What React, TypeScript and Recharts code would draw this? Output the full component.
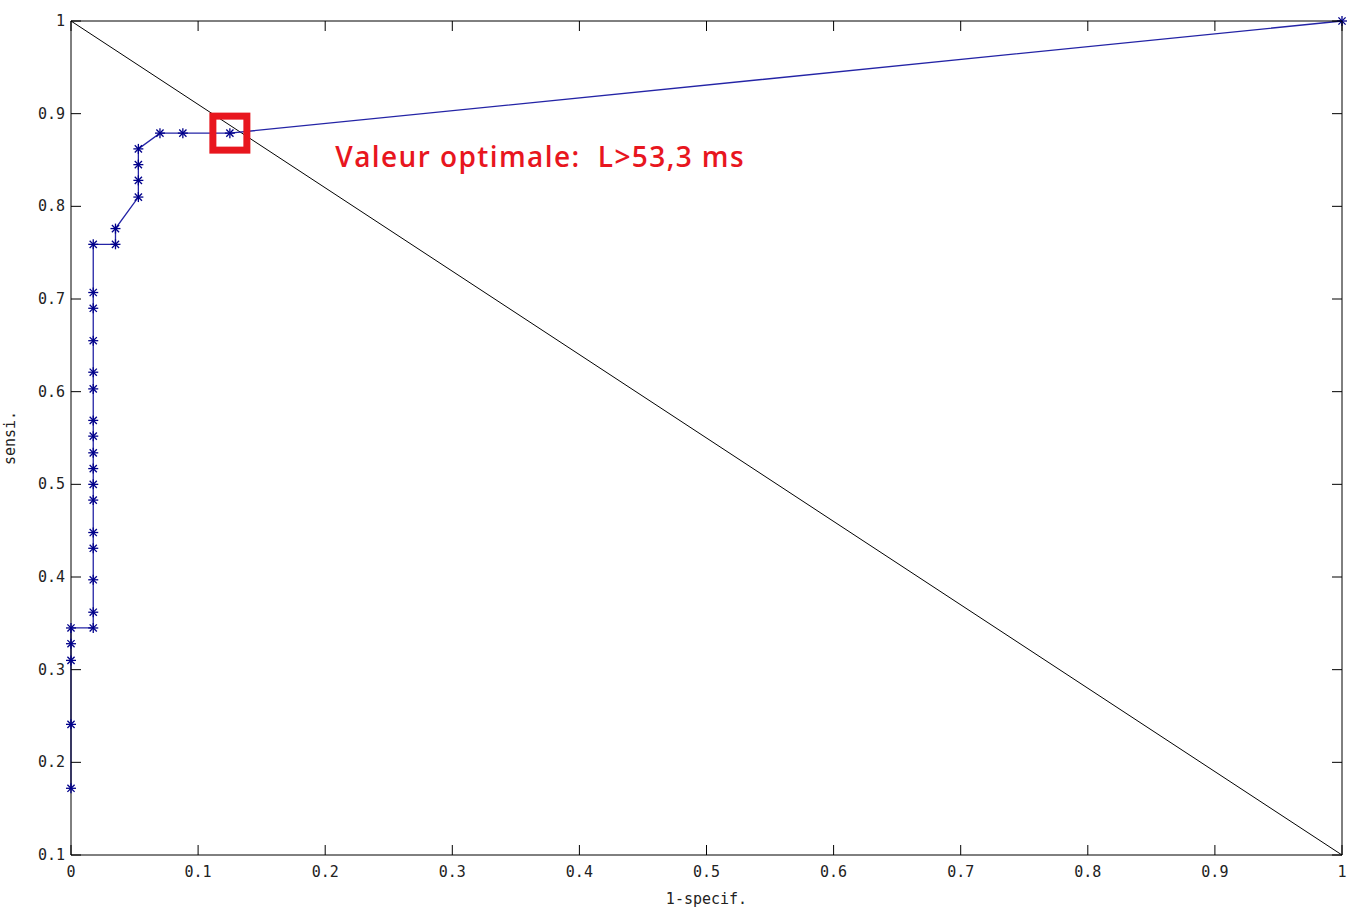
import React from 'react';
import { LineChart, Line, XAxis, YAxis, ReferenceDot } from 'recharts';

// ROC points (1 - specificity, sensitivity)
const fpr = [
  0, 0, 0, 0, 0,
  0.0175, 0.0175, 0.0175, 0.0175, 0.0175, 0.0175, 0.0175, 0.0175, 0.0175,
  0.0175, 0.0175, 0.0175, 0.0175, 0.0175, 0.0175, 0.0175, 0.0175,
  0.035, 0.035,
  0.053, 0.053, 0.053, 0.053,
  0.07, 0.088, 0.125, 1,
];
const sens = [
  0.172, 0.241, 0.31, 0.328, 0.345,
  0.345, 0.362, 0.397, 0.431, 0.448, 0.483, 0.5, 0.517, 0.534,
  0.552, 0.569, 0.603, 0.621, 0.655, 0.69, 0.707, 0.759,
  0.759, 0.776,
  0.81, 0.828, 0.845, 0.862,
  0.879, 0.879, 0.879, 1,
];

const diagX = [0, 1];
const diagY = [1, 0.1];

const xTicks = [0, 0.1, 0.2, 0.3, 0.4, 0.5, 0.6, 0.7, 0.8, 0.9, 1];
const yTicks = [0.1, 0.2, 0.3, 0.4, 0.5, 0.6, 0.7, 0.8, 0.9, 1];

const optimal = { x: 0.125, y: 0.879 };
const note = { x: 0.208, y: 0.853, text: 'Valeur optimale:  L>53,3 ms' };

const rocData = fpr.map((x, i) => ({ x, y: sens[i] }));
const diagData = diagX.map((x, i) => ({ x, y: diagY[i] }));

const fmt = (v: number) => (v === 0 || v === 1 ? String(v) : v.toFixed(1));
const tickFont = { fontFamily: 'DejaVu Sans Mono', fontSize: 15, fill: '#222' };

const BottomTick = (p: any) => (
  <g>
    <line x1={p.x} x2={p.x} y1={p.y} y2={p.y - 10} stroke="#000" />
    <text x={p.x} y={p.y + 22} textAnchor="middle" {...tickFont}>{fmt(p.payload.value)}</text>
  </g>
);
const TopTick = (p: any) => <line x1={p.x} x2={p.x} y1={p.y} y2={p.y + 10} stroke="#000" />;
const LeftTick = (p: any) => (
  <g>
    <line x1={p.x} x2={p.x + 10} y1={p.y} y2={p.y} stroke="#000" />
    <text x={p.x - 6} y={p.y + 5} textAnchor="end" {...tickFont}>{fmt(p.payload.value)}</text>
  </g>
);
const RightTick = (p: any) => <line x1={p.x} x2={p.x - 10} y1={p.y} y2={p.y} stroke="#000" />;

const Star = (p: any) => {
  const { cx, cy } = p;
  if (cx == null || cy == null) return null;
  const r = 5;
  const d = 3.6;
  return (
    <g stroke="#00008b" strokeWidth={1.3}>
      <line x1={cx - r} x2={cx + r} y1={cy} y2={cy} />
      <line x1={cx} x2={cx} y1={cy - r} y2={cy + r} />
      <line x1={cx - d} x2={cx + d} y1={cy - d} y2={cy + d} />
      <line x1={cx - d} x2={cx + d} y1={cy + d} y2={cy - d} />
    </g>
  );
};

const OptimalBox = (p: any) => (
  <rect x={p.cx - 17} y={p.cy - 17} width={34} height={34} fill="none" stroke="#e8161e" strokeWidth={7} />
);

const NoteText = (p: any) => (
  <text
    x={p.cx}
    y={p.cy + 10}
    fill="#e8161e"
    fontFamily="Open Sans"
    fontWeight={600}
    fontSize={28}
    letterSpacing={1.4}
    style={{ whiteSpace: 'pre' }}
  >
    {note.text}
  </text>
);

export default function App() {
  return (
    <div style={{ position: 'absolute', left: 0, top: 0, width: 1357, height: 913, background: '#fff' }}>
      <LineChart width={1357} height={913} margin={{ top: 20, right: 14, left: 0, bottom: 0 }}>
        <XAxis
          xAxisId="b"
          type="number"
          dataKey="x"
          domain={[0, 1]}
          ticks={xTicks}
          orientation="bottom"
          height={58}
          tickSize={0}
          tickMargin={0}
          tick={BottomTick}
          stroke="#000"
          label={{ value: '1-specif.', position: 'insideBottom', offset: 9, style: { ...tickFont } }}
        />
        <XAxis
          xAxisId="t"
          type="number"
          dataKey="x"
          domain={[0, 1]}
          ticks={xTicks}
          orientation="top"
          height={1}
          tickSize={0}
          tickMargin={0}
          tick={TopTick}
          stroke="#000"
        />
        <YAxis
          yAxisId="l"
          type="number"
          dataKey="y"
          domain={[0.1, 1]}
          ticks={yTicks}
          orientation="left"
          width={71}
          tickSize={0}
          tickMargin={0}
          tick={LeftTick}
          stroke="#000"
          label={{ value: 'sensi.', angle: -90, position: 'insideLeft', offset: 10, style: { ...tickFont, textAnchor: 'middle' } }}
        />
        <YAxis
          yAxisId="r"
          type="number"
          dataKey="y"
          domain={[0.1, 1]}
          ticks={yTicks}
          orientation="right"
          width={1}
          tickSize={0}
          tickMargin={0}
          tick={RightTick}
          stroke="#000"
        />
        <Line
          xAxisId="t"
          yAxisId="r"
          data={diagData}
          dataKey="y"
          stroke="#000"
          strokeWidth={1}
          dot={false}
          isAnimationActive={false}
        />
        <Line
          xAxisId="b"
          yAxisId="l"
          data={rocData}
          dataKey="y"
          stroke="#2424a6"
          strokeWidth={1.3}
          dot={Star}
          activeDot={false}
          isAnimationActive={false}
        />
        <ReferenceDot xAxisId="b" yAxisId="l" x={optimal.x} y={optimal.y} shape={OptimalBox} />
        <ReferenceDot xAxisId="b" yAxisId="l" x={note.x} y={note.y} shape={NoteText} />
      </LineChart>
    </div>
  );
}
